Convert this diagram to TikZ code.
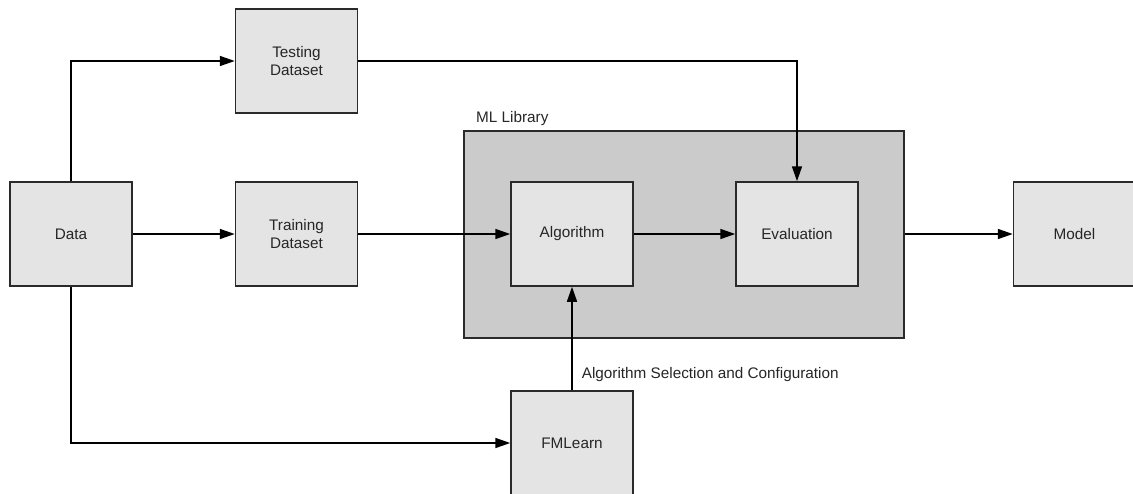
\documentclass[tikz,border=0pt]{standalone}
\usepackage{fontspec}
\setmainfont{Liberation Sans}
\usetikzlibrary{arrows.meta}
\definecolor{boxfill}{HTML}{E4E4E4}
\definecolor{libfill}{HTML}{CBCBCB}
\definecolor{edge}{HTML}{2A2A2A}
\begin{document}
\begin{tikzpicture}[x=1pt,y=-1pt,
  font=\fontsize{15.3}{18}\selectfont,
  stepbox/.style={draw=edge, line width=1.5pt, fill=boxfill, rectangle,
    minimum width=122pt, minimum height=104pt, inner sep=2pt, align=center,
    text=black!85},
  arr/.style={draw=black, line width=1.6pt,
    -{Triangle[length=15pt,width=10pt]}}]
\useasboundingbox (0,0) rectangle (1133,493);
\clip (0,0) rectangle (1133,493);

% ML library container
\node[draw=edge, line width=1.8pt, fill=libfill, rectangle,
  minimum width=440pt, minimum height=207pt] (lib) at (684,234.5) {};
\node[anchor=base west, inner sep=0pt, text=black!85] (liblabel) at (476,122) {ML Library};

% process boxes
\node[stepbox] (data)  at (71,234)    {Data};
\node[stepbox] (test)  at (296.5,61)  {Testing\\Dataset};
\node[stepbox] (train) at (296.5,234) {Training\\Dataset};
\node[stepbox] (algo)  at (572,234)   {Algorithm};
\node[stepbox] (eval)  at (797,234)   {Evaluation};
\node[stepbox] (model) at (1074.5,234) {Model};
\node[stepbox] (fml)   at (572,443)   {FMLearn};

% data flow
\draw[arr] (data.north) |- (test.west);
\draw[arr] (data.east) -- (train.west);
\draw[arr] (train.east) -- (algo.west);
\draw[arr] (algo.east) -- (eval.west);
\draw[arr] (test.east) -| (eval.north);
\draw[arr] (lib.east |- eval.east) -- (model.west);
\draw[arr] (data.south) |- (fml.west);
\draw[arr] (fml.north) -- node[pos=0.155, anchor=west, inner sep=0pt, xshift=9pt,
  text=black!85] (cfg) {Algorithm Selection and Configuration} (algo.south);
\end{tikzpicture}
\end{document}
